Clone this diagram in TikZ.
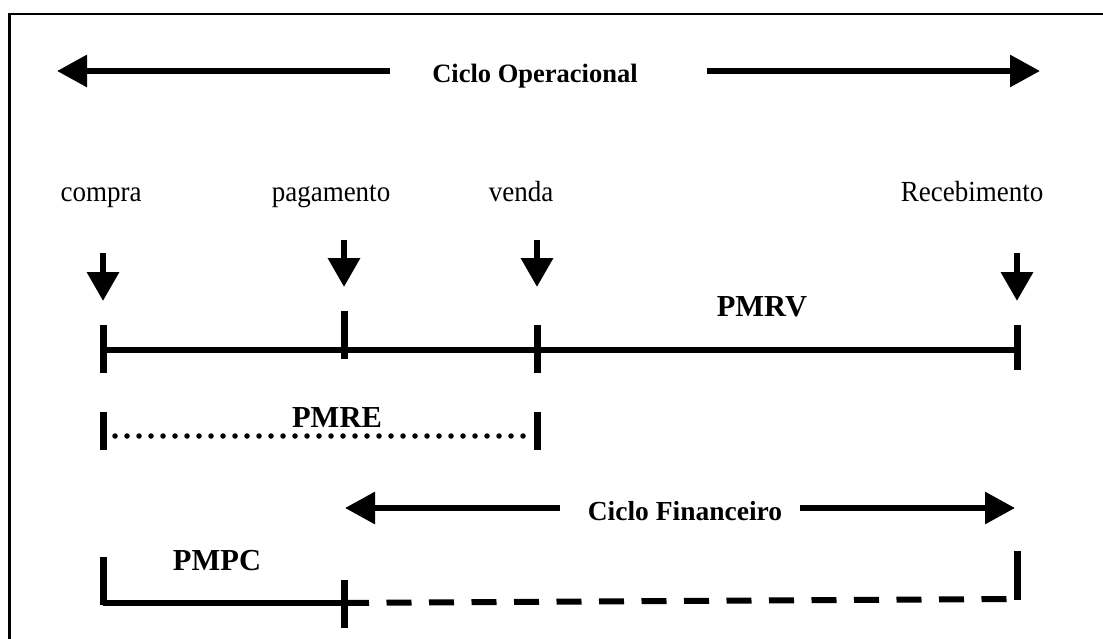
\documentclass[tikz,border=0pt]{standalone}
\usepackage{fontspec}
\setmainfont{Liberation Serif}
\usetikzlibrary{arrows.meta}
\begin{document}
\begin{tikzpicture}[x=1pt,y=-1pt,
  bigarrow/.style={line width=6pt,-{Triangle[length=30pt,width=31pt]}},
  downarrow/.style={line width=6.5pt,-{Triangle[length=29pt,width=31pt]}},
  axis/.style={line width=6pt},
  tick/.style={line width=7pt},
  title/.style={font=\bfseries\fontsize{26.5}{30}\selectfont,anchor=base},
  label/.style={font=\fontsize{27}{30}\selectfont,anchor=base,yscale=1.08},
  period/.style={font=\bfseries\fontsize{30.5}{34}\selectfont,anchor=base},
  dottedline/.style={line width=5.5pt,line cap=round,dash pattern=on 0pt off 12pt},
  dashedline/.style={line width=6pt,dash pattern=on 25pt off 17.5pt}]
\useasboundingbox (0,0) rectangle (1103,639);
\begin{scope}
\clip (0,0) rectangle (1103,639);
\draw[line width=2.3pt] (9.5,14) rectangle (1120,660);
\end{scope}

% operational cycle
\node[title] (op) at (535,83) {Ciclo Operacional};
\coordinate (opL) at (390,71);
\coordinate (opLtip) at (57,71);
\coordinate (opR) at (707,71);
\coordinate (opRtip) at (1040,71);
\draw[bigarrow] (opL) -- (opLtip);
\draw[bigarrow] (opR) -- (opRtip);

% event labels
\node[label] (compra) at (101,202) {compra};
\node[label] (pag) at (331,202) {pagamento};
\node[label] (venda) at (521,202) {venda};
\node[label] (rec) at (972,202) {Recebimento};

% event arrows
\coordinate (aC) at (103,253); \coordinate (aCt) at (103,301);
\coordinate (aP) at (344,240); \coordinate (aPt) at (344,287);
\coordinate (aV) at (537,240); \coordinate (aVt) at (537,287);
\coordinate (aR) at (1017,253); \coordinate (aRt) at (1017,301);
\draw[downarrow] (aC) -- (aCt);
\draw[downarrow] (aP) -- (aPt);
\draw[downarrow] (aV) -- (aVt);
\draw[downarrow] (aR) -- (aRt);

% time line
\coordinate (tC) at (103,350);
\coordinate (tP) at (344,350);
\coordinate (tV) at (537,350);
\coordinate (tR) at (1017,350);
\draw[axis] (tC) -- (tR);
\draw[tick] (103,325) -- (103,373);
\draw[tick] (344,311) -- (344,359);
\draw[tick] (537,325) -- (537,373);
\draw[tick] (1017,325) -- (1017,370);
\node[period] (pmrv) at (762,316) {PMRV};

% stock period
\draw[tick] (103,412) -- (103,450);
\draw[tick] (537,412) -- (537,450);
\coordinate (eL) at (115,436);
\coordinate (eR) at (530,436);
\draw[dottedline] (eL) -- (eR);
\node[period] (pmre) at (337,427) {PMRE};

% financial cycle
\node[title,font=\bfseries\fontsize{27.5}{30}\selectfont] (fin) at (685,520) {Ciclo Financeiro};
\coordinate (fL) at (560,508);
\coordinate (fLtip) at (345,508);
\coordinate (fR) at (800,508);
\coordinate (fRtip) at (1015,508);
\draw[bigarrow] (fL) -- (fLtip);
\draw[bigarrow] (fR) -- (fRtip);

% payment period
\coordinate (pC) at (103,603);
\coordinate (pP) at (344,603);
\coordinate (pR) at (1010,599);
\draw[tick] (103,557) -- (103,605);
\draw[axis] (pC) -- (pP);
\draw[tick] (344,580) -- (344,628);
\draw[dashedline] (pP) -- (pR);
\draw[tick] (1017,551) -- (1017,600);
\node[period] (pmpc) at (217,570) {PMPC};
\end{tikzpicture}
\end{document}
